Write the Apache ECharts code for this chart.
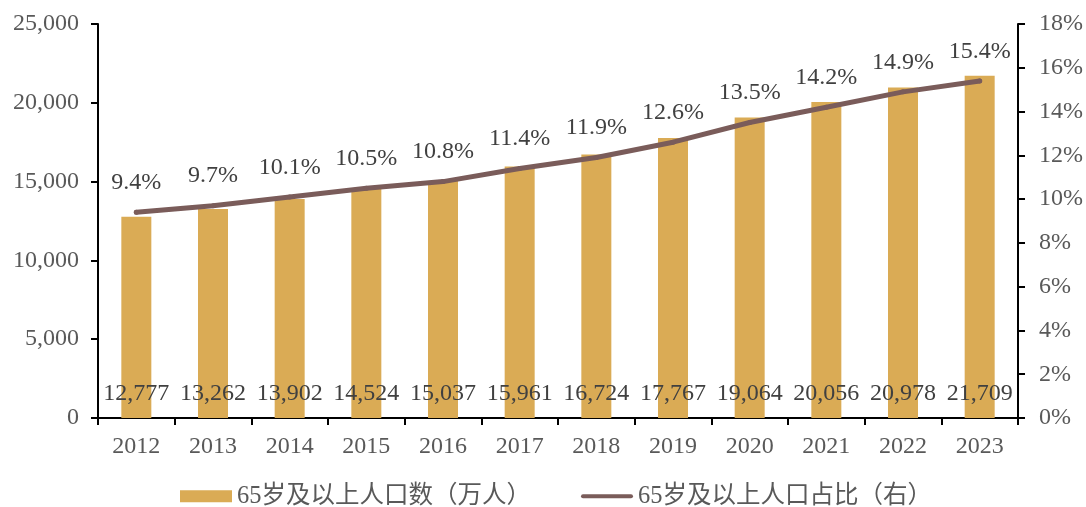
<!DOCTYPE html>
<html><head><meta charset="utf-8">
<script src="https://cdn.jsdelivr.net/npm/echarts@6/dist/echarts.min.js"></script>
<style>html,body{margin:0;padding:0;background:#fff}#c{width:1086px;height:507px}</style>
</head><body><div id="c"></div>
<script>
const categories = ['2012','2013','2014','2015','2016','2017','2018','2019','2020','2021','2022','2023'];
const population = [12777,13262,13902,14524,15037,15961,16724,17767,19064,20056,20978,21709];
const ratio = [9.4,9.7,10.1,10.5,10.8,11.4,11.9,12.6,13.5,14.2,14.9,15.4];
const barName = '65岁及以上人口数（万人）';
const lineName = '65岁及以上人口占比（右）';

const FONT = '"Liberation Serif","Times New Roman","Noto Sans CJK SC",serif';
const TXT = '#595959';
const LINE = '#7A5C5A';
const chart = echarts.init(document.getElementById('c'), null, {renderer:'canvas'});
const fmt = v => v.toLocaleString('en-US');
chart.setOption({
  animation:false,
  textStyle:{fontFamily:FONT},
  grid:{left:98,right:65,top:24,bottom:89,containLabel:false},
  legend:{
    top:484,left:180,padding:0,itemGap:50,itemWidth:52,itemHeight:12,
    textStyle:{fontFamily:FONT,fontSize:24.5,color:TXT},
    data:[{name:barName,icon:'rect'},
          {name:lineName,icon:'path://M2,0 L50,0 A2,2 0 0 1 50,4 L2,4 A2,2 0 0 1 2,0 Z',
           itemStyle:{color:LINE,opacity:1}}]
  },
  xAxis:{
    type:'category',data:categories,
    axisLine:{lineStyle:{color:'#000',width:2}},
    axisTick:{show:true,length:7,lineStyle:{color:'#000',width:2},alignWithLabel:false},
    axisLabel:{fontFamily:FONT,fontSize:24,color:TXT,margin:17}
  },
  yAxis:[
    {type:'value',min:0,max:25000,interval:5000,
     axisLine:{show:true,lineStyle:{color:'#000',width:2}},
     axisTick:{show:true,length:7,lineStyle:{color:'#000',width:2}},
     splitLine:{show:false},
     axisLabel:{fontFamily:FONT,fontSize:24,color:TXT,margin:19,formatter:v=>fmt(v)}},
    {type:'value',min:0,max:18,interval:2,
     axisLine:{show:true,lineStyle:{color:'#000',width:2}},
     axisTick:{show:true,length:7,lineStyle:{color:'#000',width:2}},
     splitLine:{show:false},
     axisLabel:{fontFamily:FONT,fontSize:24,color:TXT,margin:21,formatter:v=>v+'%'}}
  ],
  series:[
    {name:barName,type:'bar',data:population,barWidth:30,yAxisIndex:0,
     itemStyle:{color:'#DAAB55'},
     label:{show:true,position:'insideBottom',distance:12,fontFamily:FONT,fontSize:24,color:'#404040',
       formatter:p=>fmt(p.value)}},
    {name:lineName,type:'line',data:ratio,yAxisIndex:1,symbol:'circle',symbolSize:5,showSymbol:true,
     lineStyle:{color:LINE,width:5,cap:'round'},itemStyle:{color:LINE},
     label:{show:true,position:'top',distance:15,fontFamily:FONT,fontSize:24,color:'#404040',
       formatter:p=>p.value.toFixed(1)+'%'}}
  ]
});
</script></body></html>
